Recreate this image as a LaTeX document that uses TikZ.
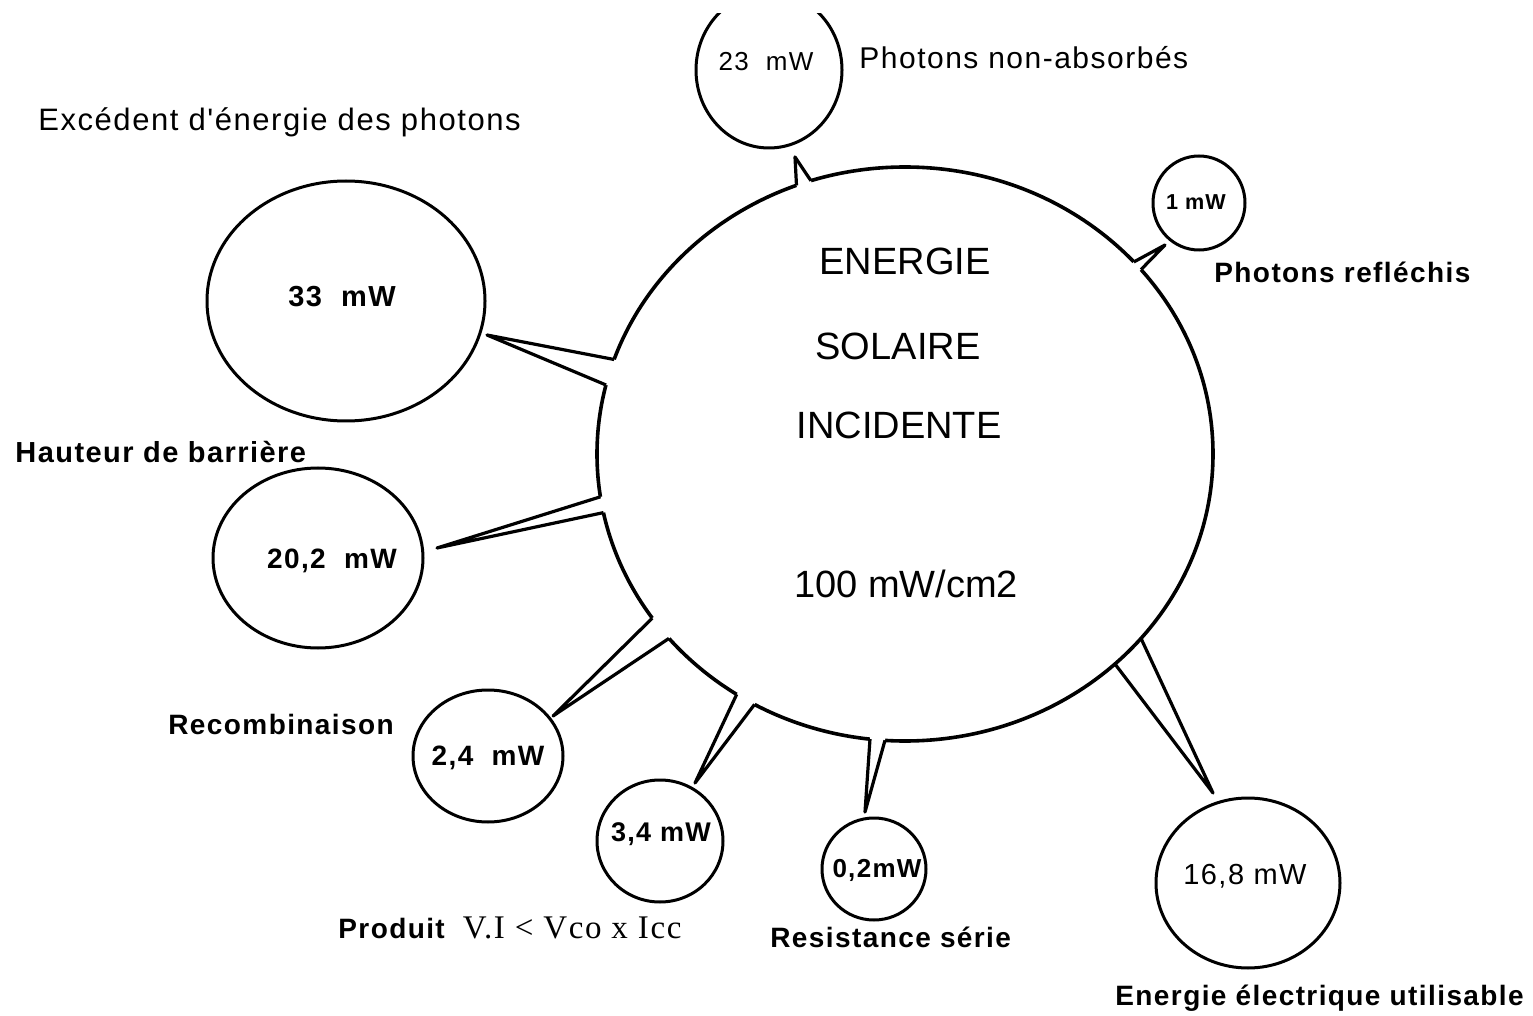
\documentclass[tikz,border=0pt]{standalone}
\usepackage{fontspec}
\setmainfont{Liberation Sans}
\newfontfamily\lblfont[LetterSpace=5]{Liberation Sans}
\newfontfamily\serfont[LetterSpace=5]{Liberation Serif}
\usetikzlibrary{shapes.geometric,calc}
\tikzset{
  bigc/.style={draw, ellipse, line width=1.8pt, inner sep=0pt, outer sep=0pt, minimum width=308pt, minimum height=287pt},
  smallc/.style={draw, ellipse, line width=1.5pt, inner sep=0pt, outer sep=0pt},
  spike/.style={line width=1.6pt, line join=round},
  bigtxt/.style={font=\fontsize{19}{22}\selectfont, inner sep=0pt},
  lbl/.style={font=\lblfont\fontsize{14}{16}\selectfont\bfseries, anchor=base west, inner sep=0pt},
  lblreg/.style={font=\lblfont\fontsize{15}{17}\selectfont, anchor=base west, inner sep=0pt},
  val/.style={font=\lblfont\fontsize{14}{16}\selectfont\bfseries, inner sep=0pt},
}
\begin{document}
\begin{tikzpicture}[x=0.5pt,y=-0.5pt]
\fill[white] (0,0) rectangle (1533,1016);
\useasboundingbox (0,0) rectangle (1533,1016);

% big circle
\node[bigc] (big) at (905,454) {};
\node[bigtxt] (t1) at (905,261) {ENERGIE};
\node[bigtxt] (t2) at (898,346) {SOLAIRE};
\node[bigtxt] (t3) at (899,425) {INCIDENTE};
\node[bigtxt] (t4) at (906,584) {100 mW/cm2};

% small circles
\begin{scope}
  \clip (0,14) rectangle (1533,1016);
  \node[smallc, minimum width=73pt, minimum height=78pt] (s23) at (769,70) {};
\end{scope}
\node[smallc, minimum width=46pt, minimum height=47pt] (s1) at (1199,203) {};
\node[smallc, minimum width=139pt, minimum height=120pt] (s33) at (346,301) {};
\node[smallc, minimum width=105pt, minimum height=90pt] (s20) at (318,558) {};
\node[smallc, minimum width=75pt, minimum height=66pt] (s24) at (488,756) {};
\node[smallc, minimum width=63pt, minimum height=61pt] (s34) at (660,841) {};
\node[smallc, minimum width=52pt, minimum height=51pt] (s02) at (874,869) {};
\node[smallc, minimum width=92pt, minimum height=85pt] (s168) at (1248,883) {};

% values
\node[font=\lblfont\fontsize{13}{15}\selectfont, inner sep=0pt] (v23) at (766,62) {23~~mW};
\node[font=\lblfont\fontsize{10.8}{12}\selectfont\bfseries, inner sep=0pt] (v1) at (1196,202) {1 mW};
\node[font=\lblfont\fontsize{14.5}{16}\selectfont\bfseries, inner sep=0pt] (v33) at (342,297) {33~~mW};
\node[val] (v20) at (332,561) {20,2~~mW};
\node[val] (v24) at (488,758) {2,4~~mW};
\node[font=\lblfont\fontsize{13.5}{15}\selectfont\bfseries, inner sep=0pt] (v34) at (661,834) {3,4 mW};
\node[font=\lblfont\fontsize{13}{15}\selectfont\bfseries, inner sep=0pt] (v02) at (877,870) {0,2mW};
\node[font=\lblfont\fontsize{14.5}{16}\selectfont, inner sep=0pt] (v168) at (1245,876) {16,8 mW};

% tips of the spikes
\coordinate (k23) at (795,157);
\coordinate (k1) at (1165,245);
\coordinate (k33) at (487,335);
\coordinate (k20) at (437,548);
\coordinate (k24) at (553,716);
\coordinate (k34) at (695,783);
\coordinate (k02) at (865,812);
\coordinate (k168) at (1213,793);

\foreach \a/\b/\t in {112/109/k23, 40/38/k1, 162/167/k33, 188/191/k20, 213/218/k24, 235/239/k34, 263/266/k02}{
  \fill[white] ($(big.center)!0.94!(big.\a)$) -- (big.\a) -- (\t) -- (big.\b) -- ($(big.center)!0.94!(big.\b)$) -- cycle;
  \draw[spike] (big.\a) -- (\t) -- (big.\b);
}
\draw[spike] (big.315) -- (k168) -- (big.322);

% labels
\node[lblreg, font=\lblfont\fontsize{15.5}{17}\selectfont] (l1) at (38,131) {Excédent d'énergie des photons};
\node[lblreg] (l2) at (859,69) {Photons non-absorbés};
\node[lbl] (l3) at (1214,283) {Photons refléchis};
\node[lbl, font=\lblfont\fontsize{14.5}{16}\selectfont\bfseries] (l4) at (15,463) {Hauteur de barrière};
\node[lbl] (l5) at (168,734) {Recombinaison};
\node[lbl] (l6) at (338,938) {Produit\hspace{9pt}{\serfont\mdseries\fontsize{16.5}{18}\selectfont V.I < Vco x Icc}};
\node[lbl] (l7) at (770,947) {Resistance série};
\node[lbl] (l8) at (1115,1005) {Energie électrique utilisable};
\end{tikzpicture}
\end{document}
